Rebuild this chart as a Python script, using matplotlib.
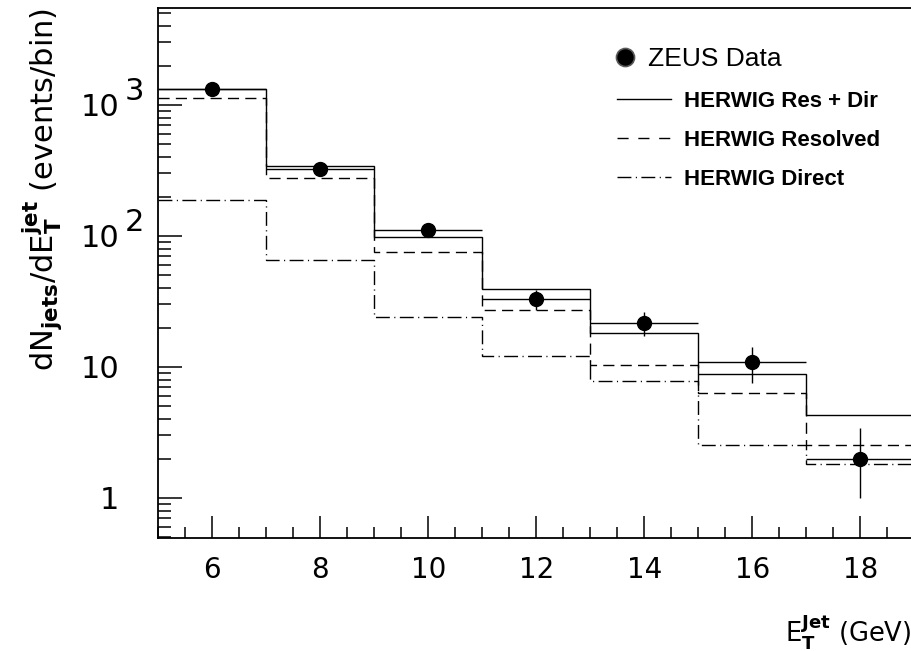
import numpy as np
import matplotlib.pyplot as plt
from matplotlib.lines import Line2D
from matplotlib.ticker import FixedLocator, FixedFormatter, MultipleLocator, LogLocator, NullFormatter

plt.rcParams['font.family'] = ['DejaVu Sans']
plt.rcParams['mathtext.fontset'] = 'dejavusans'
plt.rcParams['lines.scale_dashes'] = False

# bins in E_T^jet (GeV)
edges = [5, 7, 9, 11, 13, 15, 17, 19]
centres = [6, 8, 10, 12, 14, 16, 18]

# ZEUS data (events/bin)
data = [1330, 325, 111, 33, 21.8, 10.9, 2.0]
err_lo = [36, 18, 10.5, 5.7, 4.7, 3.3, 1.0]
err_hi = [36, 18, 10.5, 5.7, 4.7, 3.3, 1.4]

# HERWIG predictions
res_dir = [1320, 342, 97.4, 39.2, 18.1, 8.9, 4.3]
resolved = [1137, 279, 75.1, 27.4, 10.4, 6.3, 2.52]
direct = [189, 65.6, 23.9, 12.2, 7.86, 2.53, 1.82]

fig = plt.figure(figsize=(9.11, 6.51), dpi=100)
ax = fig.add_axes([158.3/911, 113/651, 756/911, 530/651])

lw = 1.0
dash = (0, (8, 4.5))
dashdot = (0, (10, 3.2, 0.8, 3.2))
ax.stairs(res_dir, edges, baseline=None, color='black', lw=lw, ls='-')
ax.stairs(resolved, edges, baseline=None, color='black', lw=lw, ls=dash)
ax.stairs(direct, edges, baseline=None, color='black', lw=lw, ls=dashdot)
ax.errorbar(centres, data, yerr=[err_lo, err_hi], xerr=1, fmt='o', color='black',
            ms=10, elinewidth=lw, capsize=0)

ax.set_yscale('log')
ax.set_xlim(5, 19)
ax.set_ylim(0.495, 5500)

# axes style
for s in ['left', 'bottom', 'top']:
    ax.spines[s].set_linewidth(1.3)
ax.spines['right'].set_visible(False)

ax.xaxis.set_major_locator(FixedLocator([6, 8, 10, 12, 14, 16, 18]))
ax.xaxis.set_minor_locator(MultipleLocator(0.5))
ax.tick_params(axis='x', which='major', direction='in', length=16, width=1.1,
               labelsize=20, pad=13, top=False)
ax.tick_params(axis='x', which='minor', direction='in', length=8, width=1.1, top=False)

ax.yaxis.set_major_locator(FixedLocator([1, 10, 100, 1000]))
ax.yaxis.set_major_formatter(FixedFormatter(['1', '10', '10', '10']))
ax.yaxis.set_minor_locator(LogLocator(base=10, subs=np.arange(2, 10)))
ax.yaxis.set_minor_formatter(NullFormatter())
ax.tick_params(axis='y', which='major', direction='in', length=17, width=1.1,
               labelsize=22, pad=28, right=False)
ax.tick_params(axis='y', which='minor', direction='in', length=9.5, width=1.1, right=False)

for val, ex in [(100, '2'), (1000, '3')]:
    ax.annotate(ex, xy=(0, val), xycoords=('axes fraction', 'data'),
                xytext=(-24, 10), textcoords='offset points',
                ha='left', va='center', fontsize=22)

ax.set_ylabel(r'dN$_{\mathbf{jets}}$/dE$_{\mathbf{T}}^{\mathbf{jet}}$ (events/bin)',
              fontsize=22, loc='top', labelpad=12)
ax.set_xlabel(r'E$_{\mathbf{T}}^{\mathbf{Jet}}$ (GeV)', fontsize=18.5, loc='right')
ax.xaxis.set_label_coords(0.996, -0.14)

# legend: data entry on its own, then the three HERWIG curves
h_data = Line2D([], [], marker='o', ls='none', ms=13, mfc='black', mec='0.35', mew=1.2)
leg1 = ax.legend([h_data], ['ZEUS Data'], loc='center left', bbox_to_anchor=(0.600, 0.904),
                 frameon=False, handlelength=1.0, handletextpad=0.38,
                 borderpad=0, borderaxespad=0, prop={'family': 'Liberation Sans', 'size': 19})
ax.add_artist(leg1)

h_mc = [Line2D([], [], color='black', lw=lw, ls='-'),
        Line2D([], [], color='black', lw=lw, ls=(0, (8, 7))),
        Line2D([], [], color='black', lw=lw, ls=dashdot)]
labels = ['HERWIG Res + Dir', 'HERWIG Resolved', 'HERWIG Direct']
leg2 = ax.legend(h_mc, labels, loc='center left', bbox_to_anchor=(0.607, 0.750),
                 frameon=False, handlelength=2.4, handletextpad=0.6,
                 labelspacing=0.8, borderpad=0, borderaxespad=0,
                 prop={'family': 'Liberation Sans', 'size': 16, 'weight': 'bold'})

plt.savefig('out.png', dpi=100)
